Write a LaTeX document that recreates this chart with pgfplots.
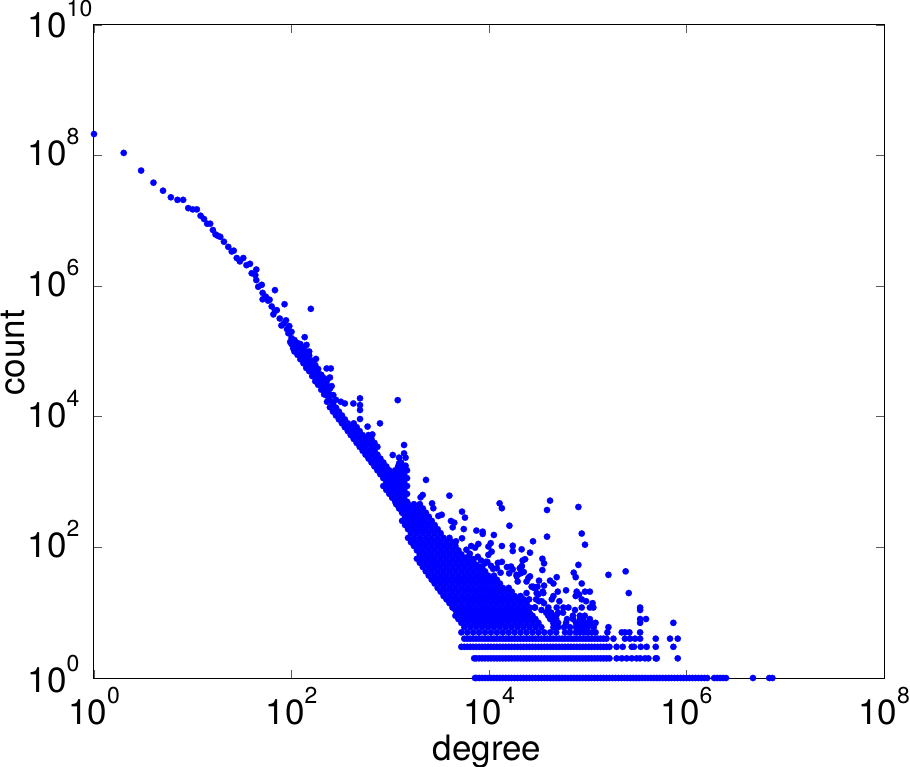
\documentclass[border=0pt]{standalone}
\usepackage{fontspec}
\setmainfont{TeX Gyre Heros}
\usepackage{pgfplots}
\pgfplotsset{compat=1.18}
% one pt of the picture is one pixel of the reference
\newcommand{\tl}[1]{\fontsize{35}{35}\selectfont 10\raisebox{21pt}{\fontsize{23}{23}\selectfont #1}}
\newcommand{\yl}[2]{\raisebox{#1}{\makebox[61pt][l]{\tl{#2}}}}

\begin{document}
\begin{tikzpicture}
\path[use as bounding box] (-94pt,-88pt) rectangle (816pt,678pt);
\begin{axis}[scale only axis,width=790pt,height=653pt,at={(0pt,0pt)},anchor=south west,
 xmode=log,ymode=log,xmin=1,xmax=1e8,ymin=1,ymax=1e10,
 xtick={1,1e2,1e4,1e6,1e8},ytick={1,1e2,1e4,1e6,1e8,1e10},
 xticklabels={\tl{0},\tl{2},\tl{4},\tl{6},\tl{8}},
 yticklabels={\yl{-4pt}{0},\yl{0pt}{2},\yl{-1pt}{4},\yl{0pt}{6},\yl{0.5pt}{8},\yl{-3pt}{10}},
 xminorticks=false,yminorticks=false,
 tick align=inside,major tick length=8pt,tick style={black!65,line width=0.7pt},
 axis line style={black,line width=1pt},
 xticklabel style={anchor=base,inner sep=0pt,yshift=-46pt},
 yticklabel style={anchor=base east,inner sep=0pt,xshift=-5pt,yshift=-10pt},
 xlabel={\fontsize{35}{35}\selectfont degree},ylabel={\fontsize{35}{35}\selectfont count},
 every axis x label/.style={at={(axis description cs:0.4975,0)},anchor=base,inner sep=0pt,yshift=-82pt},
 every axis y label/.style={at={(axis description cs:0,0.498)},rotate=90,anchor=base,inner sep=0pt,yshift=69pt},
 clip=false]
\addplot[blue,only marks,mark=*,mark size=3.2pt,mark options={fill=blue,draw=blue,line width=0.2pt}] coordinates {
% low degrees
(1,2.14e8) (2,1.1e8) (3,5.9e7) (4,3.85e7) (5,2.9e7) (6,2.3e7) (7,2.1e7) (8,2.1e7) (9,1.57e7) (10,1.5e7) (11,1.5e7) (12,1.2e7) (13,1.07e7) (14,9.06e6) (15,9.06e6) (16,7.25e6) (17,6.2e6) (18,5.9e6) (19,5.7e6)
(20.7,4.8e6) (22.9,4e6) (24.8,3.4e6) (26,3.5e6) (27.9,2.7e6) (30,2.4e6) (32.5,2.7e6) (35,2.1e6) (38,2.2e6) (44,1.8e6) (39.5,1.58e6) (43,1.48e6) (44,1.24e6) (46,9.8e5) (50,1.05e6) (51,7.9e5) (51,6.3e5) (55,6.9e5) (60,6.2e5) (63,4.9e5) (65.5,3.7e5) (71,4.3e5) (76,3.2e5) (79,2.5e5) (88,3e5) (95,2.45e5) (93,1.9e5) (97,1.4e5) (108,1.4e5) (104,1.12e5)
(58,6e5) (68,4.2e5) (84,2.7e5) (90,2.2e5)
(68,8.7e5) (85,5.3e5) (157,4.5e5) (136,1.66e5) (142,1.26e5) (177,7.7e4) (227,5.5e4) (250,5.5e4) (245,4e4) (255,2.95e4) (265,2.15e4) (316,1.7e4) (347,1.6e4) (423,1.6e4)
(494,1.92e4) (494,1.51e4) (494,1.27e4) (494,9250) (1190,1.8e4) (787,7940) (589,7080) (659,5370)
% ridge
(100,1.3e5) (100,1.6e5) (100,2e5)
(107,1e5) (107,1.25e5) (107,1.5e5)
(115,8.9e4) (115,1.1e5) (115,1.35e5)
(123,7.6e4) (123,9e4) (123,1.1e5) (123,1.3e5)
(132,6.6e4) (132,8e4) (132,9.5e4) (132,1.15e5)
(141,5.6e4) (141,6.8e4) (141,8.2e4) (141,1e5)
(151,5e4) (151,6e4) (151,7.2e4) (151,8.7e4) (151,1e5)
(162,4.2e4) (162,5e4) (162,6e4) (162,7.2e4)
(174,3.5e4) (174,4.3e4) (174,5.2e4) (174,6.2e4)
(186,3.1e4) (186,3.8e4) (186,4.6e4) (186,5.4e4)
(200,2.6e4) (200,3.1e4) (200,3.7e4) (200,4.4e4)
(214,2.2e4) (214,2.7e4) (214,3.3e4) (214,3.9e4)
(229,1.7e4) (229,2.1e4) (229,2.5e4) (229,3e4) (229,3.6e4)
(245,1.4e4) (245,1.8e4) (245,2.2e4) (245,2.7e4)
(263,12020) (263,15850) (282,10470) (282,13800) (282,18200) (302,9120) (302,12020) (324,7943) (324,10470) (347,6918) (347,9120) (372,6026) (372,7943) (398,5248) (398,6918)
(427,4571) (427,6026) (427,7943) (457,3981) (457,5248) (457,6918) (490,3467) (490,4571) (490,6026) (525,3020) (525,3981) (525,5248) (562,2630) (562,3467) (562,4571)
(603,2291) (603,3020) (603,3981) (603,5248) (646,1995) (646,2630) (646,3467) (646,4571) (692,1738) (692,2291) (692,3020) (692,3981) (741,1514) (741,1995) (741,2630) (741,3467)
(794,1318) (794,1738) (794,2291) (851,871) (851,1148) (851,1514) (851,1995) (912,759) (912,1000) (912,1318) (912,1738) (977,661) (977,871) (977,1148) (977,1514)
(1047,575) (1047,759) (1047,1000) (1047,1318) (1122,501) (1122,661) (1122,871) (1122,1148) (1122,1514)
(1202,437) (1202,575) (1202,759) (1202,1000) (1202,1318) (1202,1738)
(1288,380) (1288,501) (1288,661) (1288,871) (1288,1148) (1288,1514) (1288,1995)
(1380,331) (1380,437) (1380,575) (1380,759) (1380,1000) (1380,1318) (1380,1738)
(1479,288) (1479,380) (1479,501) (1479,661) (1479,871) (1479,1148) (1479,1514)
% outliers
(1380,3700) (1380,2750) (1430,2370) (1060,2600) (1230,2370) (1230,1940) (1430,1780) (2300,1080) (3970,620) (2130,635) (2030,585) (2650,473) (2730,398)
(5330,353) (5710,286) (3320,316) (3070,303) (4120,254) (4450,239) (4290,203) (5550,191) (5330,138) (7450,181) (8630,174) (8630,161) (11200,155) (12800,473) (13500,398) (16100,215)
(41500,520) (38700,374) (80400,416) (38700,146) (86900,163) (93800,110) (27900,124) (21400,93.5) (26000,83) (17400,106) (17400,88) (13500,105) (10400,116) (9860,103) (7800,113) (7230,99) (4630,124)
(34700,67) (36100,57) (34700,45) (23200,66) (21900,63) (80400,54) (72100,41) (75500,35) (162000,38) (242000,43) (260000,20) (86900,28) (48500,35) (41500,31) (32100,31) (44900,28) (36100,26) (60300,22)
(49700,21) (77300,21) (81700,19) (75500,18) (93800,21) (105000,21) (44900,18) (43200,16) (51600,15) (86900,16) (96200,15) (112000,14)
(39900,12) (48500,12) (56600,12) (63700,12) (86900,12) (105000,12) (114000,12) (339000,12) (74300,11) (339000,11) (39800,11)
(38000,10) (42700,10) (50100,10) (56200,10)
(39800,9) (43700,9) (47900,9) (70800,9) (83200,9) (93300,9)
(41700,8) (47900,8) (61700,8) (70800,8) (83200,8) (89100,8) (105000,8) (339000,8) (389000,8)
(44700,7) (50100,7) (60300,7) (75900,7) (85100,7) (95500,7) (107000,7) (120000,7) (339000,7) (736000,7)
(44900,6) (50100,6) (57500,6) (66100,6) (75900,6) (83200,6) (91200,6) (100000,6) (115000,6) (162000,6)
(41700,5) (47900,5) (58900,5) (66100,5) (75900,5) (83200,5) (91200,5) (100000,5) (110000,5) (120000,5) (158000,5) (221000,5) (238000,5) (264000,5) (339000,5)
% scatter above the dense part
(6600,105) (5900,92) (6400,80) (5900,70) (7000,66) (7700,72) (8300,63) (9300,60) (8300,50) (10500,52) (11000,47) (12300,58) (13100,41) (15200,50) (16000,40) (17400,46) (19000,38) (20500,48) (21500,52) (22500,42) (24000,30) (19500,30) (27000,25) (24000,20) (28500,24) (31500,19) (30000,16) (32000,15) (25500,16) (29000,12) (34000,11) (36000,14) (26000,36) (31000,25) (35000,21)
(7500,54) (9120,57) (9860,77) (10640,86) (9620,60) (13500,60) (12000,48) (16700,51) (21400,51) (20900,40) (19100,36) (25000,34) (28100,25) (30400,20) (35500,20) (34200,15) (29200,12)
% dense part, one line for each count
(5248,5) (6026,5) (6918,5) (7943,5) (9120,5) (10470,5) (12020,5) (13800,5) (15850,5) (18200,5) (20890,5) (23990,5) (27540,5) (31620,5) (36310,5)
(5623,6) (6457,6) (7413,6) (8511,6) (9772,6) (11220,6) (12880,6) (14790,6) (16980,6) (19500,6) (22390,6) (25700,6) (29510,6) (33880,6)
(5248,7) (6026,7) (6918,7) (7943,7) (9120,7) (10470,7) (12020,7) (13800,7) (15850,7) (18200,7) (20890,7) (23990,7) (27540,7) (31620,7)
(4898,8) (5623,8) (6457,8) (7413,8) (8511,8) (9772,8) (11220,8) (12880,8) (14790,8) (16980,8) (19500,8) (22390,8) (25700,8) (29510,8)
(4571,9) (5248,9) (6026,9) (6918,9) (7943,9) (9120,9) (10470,9) (12020,9) (13800,9) (15850,9) (18200,9) (20890,9) (23990,9) (27540,9)
(4898,10) (5623,10) (6457,10) (7413,10) (8511,10) (9772,10) (11220,10) (12880,10) (14790,10) (16980,10) (19500,10) (22390,10) (25700,10)
(4571,11) (5248,11) (6026,11) (6918,11) (7943,11) (9120,11) (10470,11) (12020,11) (13800,11) (15850,11) (18200,11) (20890,11) (23990,11)
(4266,12) (4898,12) (5623,12) (6457,12) (7413,12) (8511,12) (9772,12) (11220,12) (12880,12) (14790,12) (16980,12) (19500,12) (22390,12) (25700,12)
(3981,14) (4571,14) (5248,14) (6026,14) (6918,14) (7943,14) (9120,14) (10470,14) (12020,14) (13800,14) (15850,14) (18200,14) (20890,14) (23990,14)
(3715,16) (4266,16) (4898,16) (5623,16) (6457,16) (7413,16) (8511,16) (9772,16) (11220,16) (12880,16) (14790,16) (16980,16) (19500,16) (22390,16)
(3467,18) (3981,18) (4571,18) (5248,18) (6026,18) (6918,18) (7943,18) (9120,18) (10470,18) (12020,18) (13800,18) (15850,18) (18200,18) (20890,18)
(3236,21) (3715,21) (4266,21) (4898,21) (5623,21) (6457,21) (7413,21) (8511,21) (9772,21) (11220,21) (12880,21) (14790,21) (16980,21)
(3020,24) (3467,24) (3981,24) (4571,24) (5248,24) (6026,24) (6918,24) (7943,24) (9120,24) (10470,24) (12020,24) (13800,24) (15850,24)
(2818,28) (3236,28) (3715,28) (4266,28) (4898,28) (5623,28) (6457,28) (7413,28) (8511,28) (9772,28) (11220,28) (12880,28)
(2630,32) (3020,32) (3467,32) (3981,32) (4571,32) (5248,32) (6026,32) (6918,32) (7943,32) (9120,32) (10470,32) (12020,32)
(2455,37) (2818,37) (3236,37) (3715,37) (4266,37) (4898,37) (5623,37) (6457,37) (7413,37) (8511,37) (9772,37) (11220,37)
(2291,43) (2630,43) (3020,43) (3467,43) (3981,43) (4571,43) (5248,43) (6026,43) (6918,43) (7943,43) (9120,43)
(2138,50) (2455,50) (2818,50) (3236,50) (3715,50) (4266,50) (4898,50) (5623,50) (6457,50) (7413,50) (8511,50)
(1995,58) (2291,58) (2630,58) (3020,58) (3467,58) (3981,58) (4571,58) (5248,58) (6026,58) (6918,58)
(1862,67) (2138,67) (2455,67) (2818,67) (3236,67) (3715,67) (4266,67) (4898,67) (5623,67) (6457,67)
(1995,78) (2291,78) (2630,78) (3020,78) (3467,78) (3981,78) (4571,78) (5248,78)
(1862,90) (2138,90) (2455,90) (2818,90) (3236,90) (3715,90) (4266,90) (4898,90)
(1738,105) (1995,105) (2291,105) (2630,105) (3020,105) (3467,105) (3981,105) (4571,105)
(1622,120) (1862,120) (2138,120) (2455,120) (2818,120) (3236,120) (3715,120) (4266,120)
(1514,140) (1738,140) (1995,140) (2291,140) (2630,140) (3020,140) (3467,140) (3981,140)
(1622,165) (1862,165) (2138,165) (2455,165) (2818,165) (3236,165)
(1514,190) (1738,190) (1995,190) (2291,190) (2630,190) (3020,190)
(1413,220) (1622,220) (1862,220) (2138,220) (2455,220) (2818,220)
(1318,255) (1514,255) (1738,255) (1995,255) (2291,255) (2630,255)
(1413,295) (1622,295) (1862,295) (2138,295) (2455,295)
(1318,340) (1514,340) (1738,340) (1995,340) (2291,340)
(1230,395) (1413,395) (1622,395) (1862,395) (2138,395)
(1148,460) (1318,460) (1514,460) (1738,460) (1995,460)
% count 4
(5623,4) (6026,4) (6457,4) (6918,4) (7413,4) (7943,4) (8511,4) (9120,4) (9772,4) (10470,4) (11220,4) (12020,4) (12880,4) (13800,4) (14790,4) (15850,4) (16980,4) (18200,4) (19500,4) (20890,4) (22390,4) (23990,4) (25700,4) (27540,4) (29510,4) (31620,4) (33880,4) (36310,4) (38900,4) (41690,4) (44670,4) (47860,4) (51290,4) (54950,4) (58880,4) (63100,4) (67610,4) (72440,4) (77620,4) (83180,4) (89130,4) (95500,4) (102300,4) (109600,4) (117500,4) (125900,4) (134900,4) (144500,4) (154900,4) (182000,4) (238000,4) (268000,4) (301000,4) (339000,4) (488000,4) (681000,4) (815000,4)
% count 3
(5248,3) (5623,3) (6026,3) (6457,3) (6918,3) (7413,3) (7943,3) (8511,3) (9120,3) (9772,3) (10470,3) (11220,3) (12020,3) (12880,3) (13800,3) (14790,3) (15850,3) (16980,3) (18200,3) (19500,3) (20890,3) (22390,3) (23990,3) (25700,3) (27540,3) (29510,3) (31620,3) (33880,3) (36310,3) (38900,3) (41690,3) (44670,3) (47860,3) (51290,3) (54950,3) (58880,3) (63100,3) (67610,3) (72440,3) (77620,3) (83180,3) (89130,3) (95500,3) (102300,3) (109600,3) (117500,3) (125900,3) (134900,3) (144500,3) (154900,3) (166000,3) (196000,3) (226000,3) (279000,3) (294000,3) (344000,3) (395000,3) (488000,3) (736000,3)
% count 2
(7079,2) (7413,2) (7943,2) (8511,2) (9120,2) (9772,2) (10470,2) (11220,2) (12020,2) (12880,2) (13800,2) (14790,2) (15850,2) (16980,2) (18200,2) (19500,2) (20890,2) (22390,2) (23990,2) (25700,2) (27540,2) (29510,2) (31620,2) (33880,2) (36310,2) (38900,2) (41690,2) (44670,2) (47860,2) (51290,2) (54950,2) (58880,2) (63100,2) (67610,2) (72440,2) (77620,2) (83180,2) (89130,2) (95500,2) (102300,2) (109600,2) (117500,2) (125900,2) (134900,2) (144500,2) (154900,2) (166000,2) (196000,2) (221000,2) (248000,2) (279000,2) (313000,2) (339000,2) (380000,2) (411000,2) (488000,2) (500000,2) (815000,2)
% count 1
(7211,1) (7413,1) (7943,1) (8511,1) (9120,1) (9772,1) (10470,1) (11220,1) (12020,1) (12880,1) (13800,1) (14790,1) (15850,1) (16980,1) (18200,1) (19500,1) (20890,1) (22390,1) (23990,1) (25700,1) (27540,1) (29510,1) (31620,1) (33880,1) (36310,1) (38900,1) (41690,1) (44670,1) (47860,1) (51290,1) (54950,1) (58880,1) (63100,1) (67610,1) (72440,1) (77620,1) (83180,1) (89130,1) (95500,1) (102300,1) (109600,1) (117500,1) (125900,1) (134900,1) (144500,1) (154900,1) (166000,1) (177800,1) (190500,1) (204200,1) (218800,1) (234400,1) (251200,1) (269200,1) (288400,1) (309000,1) (331100,1) (354800,1) (380200,1) (407400,1) (436500,1) (467700,1) (501200,1) (537000,1) (575400,1) (616600,1) (660700,1) (707900,1) (758600,1) (812800,1) (871000,1) (933300,1) (1000000,1) (1072000,1) (1148000,1) (1230000,1) (1318000,1) (1413000,1) (1514000,1) (1622000,1)
(1905000,1) (2042000,1) (2188000,1) (2344000,1) (2512000,1) (4710000,1) (6890000,1) (7410000,1)
};
\end{axis}
\end{tikzpicture}
\end{document}
